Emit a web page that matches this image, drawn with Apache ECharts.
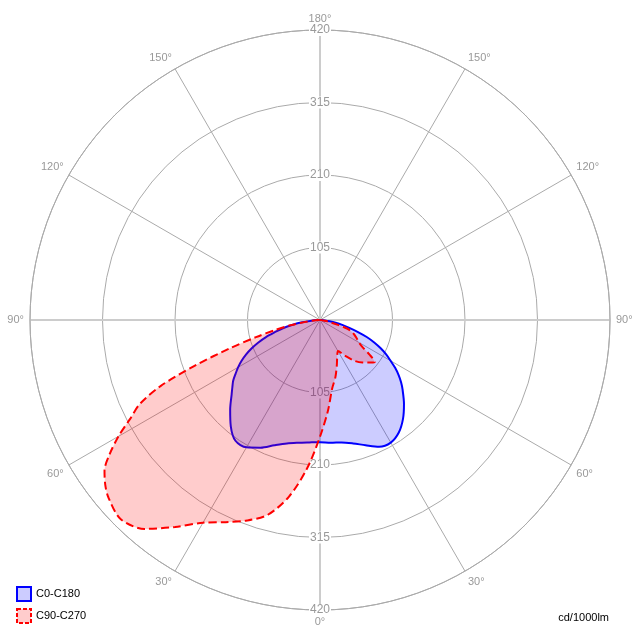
<!DOCTYPE html>
<html><head><meta charset="utf-8">
<script src="https://cdn.jsdelivr.net/npm/echarts@6/dist/echarts.min.js"></script>
<style>html,body{margin:0;padding:0;background:#fff}#c{width:640px;height:640px}</style>
</head><body><div id="c"></div>
<script>
// Gamma angles (degrees from nadir) for each half-plane
const gammaDeg = [0,5,10,15,20,25,30,35,40,45,50,52.5,55,57.5,60,62.5,65,67.5,70,72.5,75,77.5,80,82.5,85,87.5,90];
// C0 (right half, blue)
const c0   = [177,178.5,180,185,193,202.5,205,199,187,172,156,148,139,129,118,108,97,85,72,57,44,33,23,14,7,2,0];
// C180 (left half, blue)
const c180 = [177,178,180.5,185,193,204,213,213.5,201,184,167,160,153.5,145,137,128,118,107,95,82,67,55,40,26,12,4,0];
// C90 (right half, red)
const c90  = [169,132,101,86,71,59,52,63,77,87,96,100,88,73,65,61,57,53,48,41,27,15,9,5,2,1,0];
// C270 (left half, red)
const c270 = [169,216,260,292,309,323,339,366,395,408,400,392,381,361,337,310,288,250,192,138,96,66,43,21,9,3,0];

const seriesNames = ['C0-C180','C90-C270'];
const radiusMax = 420, radiusStep = 105;
const angleStep = 30;
const unitLabel = 'cd/1000lm';

function plane(right, left){
  const pts = [];
  for (let i = gammaDeg.length - 1; i >= 0; i--) pts.push([right[i], 360 - gammaDeg[i]]);
  for (let i = 0; i < gammaDeg.length; i++) pts.push([left[i], gammaDeg[i]]);
  return pts;
}

const FONT = 'Liberation Sans';
const C = [320, 320], R = 290;
const radLabel = {
  show: true, margin: 0, align: 'center', verticalAlign: 'middle',
  color: '#999', fontSize: 12, fontFamily: FONT,
  backgroundColor: '#fff', padding: [0, 1],
  formatter: v => (v === 0 ? '' : String(v))
};

const chart = echarts.init(document.getElementById('c'));
chart.setOption({
  animation: false,
  polar: [
    {center: C, radius: R},
    {center: C, radius: R},
    {center: C, radius: R}
  ],
  angleAxis: [
    {polarIndex: 0, type: 'value', min: 0, max: 360, interval: angleStep, startAngle: 270, clockwise: true, z: 0,
     axisLine: {show: true, lineStyle: {color: '#aaa', width: 1}},
     axisTick: {show: false},
     axisLabel: {show: true, margin: 6, align: 'center', verticalAlign: 'middle', color: '#999', fontSize: 11, fontFamily: FONT,
       formatter: v => (v <= 180 ? v : 360 - v) + '°'},
     splitLine: {show: true, lineStyle: {color: ['rgba(0,0,0,0)', '#aaa', '#aaa'], width: 1}}},
    {polarIndex: 1, type: 'value', min: 0, max: 360, interval: 90, startAngle: 270, clockwise: true, z: 0,
     axisLine: {show: false}, axisTick: {show: false}, axisLabel: {show: false},
     splitLine: {show: true, lineStyle: {color: '#ccc', width: 2}}},
    {polarIndex: 2, type: 'value', min: 0, max: 360, interval: 90, startAngle: 90, clockwise: true, z: 0,
     axisLine: {show: false}, axisTick: {show: false}, axisLabel: {show: false}, splitLine: {show: false}}
  ],
  radiusAxis: [
    {polarIndex: 0, type: 'value', min: 0, max: radiusMax, interval: radiusStep, z: 0,
     axisLine: {show: false}, axisTick: {show: false}, axisLabel: {show: false},
     splitLine: {show: true, lineStyle: {color: '#aaa', width: 1}}},
    {polarIndex: 1, type: 'value', min: 0, max: radiusMax, interval: radiusStep, z: 1,
     axisLine: {show: false}, axisTick: {show: false}, axisLabel: radLabel, splitLine: {show: false}},
    {polarIndex: 2, type: 'value', min: 0, max: radiusMax, interval: radiusStep, z: 1,
     axisLine: {show: false}, axisTick: {show: false}, axisLabel: radLabel, splitLine: {show: false}}
  ],
  legend: {
    orient: 'vertical', left: 16, bottom: 16, padding: 0,
    itemWidth: 14, itemHeight: 14, itemGap: 6,
    textStyle: {fontSize: 11, color: '#000', fontFamily: FONT},
    data: [
      {name: seriesNames[0], icon: 'rect', itemStyle: {color: 'rgba(0,0,255,0.2)', borderColor: '#0000ff', borderWidth: 2}},
      {name: seriesNames[1], icon: 'rect', itemStyle: {color: 'rgba(255,0,0,0.2)', borderColor: '#ff0000', borderWidth: 2, borderType: [4, 2]}}
    ]
  },
  graphic: [{type: 'text', right: 31, bottom: 17, style: {text: unitLabel, fill: '#000', font: '11px "Liberation Sans"'}}],
  series: [
    {type: 'line', name: seriesNames[0], coordinateSystem: 'polar', polarIndex: 0, z: 2,
     data: plane(c0, c180), symbol: 'none', smooth: 0.3,
     lineStyle: {color: '#0000ff', width: 2},
     areaStyle: {color: 'rgba(0,0,255,0.2)', opacity: 1}},
    {type: 'line', name: seriesNames[1], coordinateSystem: 'polar', polarIndex: 0, z: 3,
     data: plane(c90, c270), symbol: 'none', smooth: 0.3,
     lineStyle: {color: '#ff0000', width: 2, type: [8, 4]},
     areaStyle: {color: 'rgba(255,0,0,0.2)', opacity: 1}}
  ]
});
</script></body></html>
